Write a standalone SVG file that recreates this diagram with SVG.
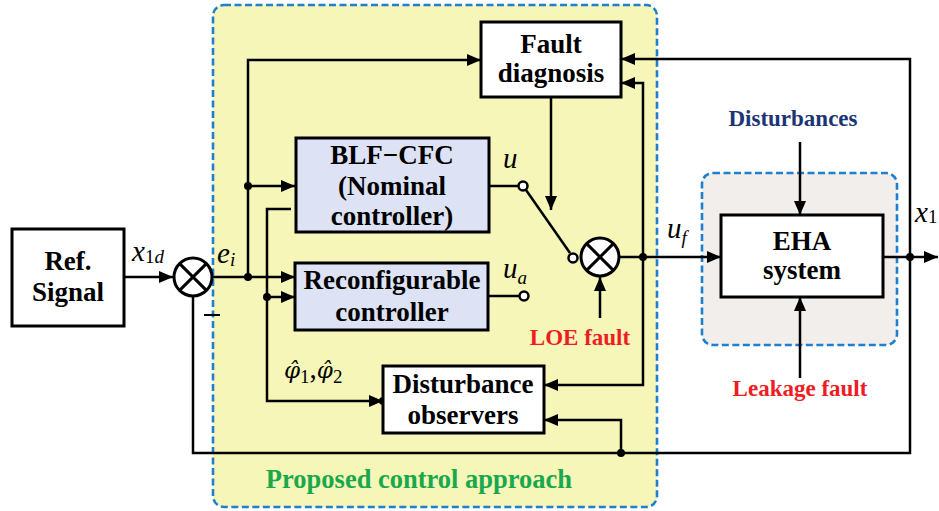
<svg xmlns="http://www.w3.org/2000/svg" width="939" height="511" viewBox="0 0 939 511">
<defs>
<marker id="ah" viewBox="0 0 14 12" refX="14" refY="6" markerWidth="14" markerHeight="12" markerUnits="userSpaceOnUse" orient="auto">
<path d="M0,0 L14,6 L0,12 z" fill="#000"/>
</marker>
</defs>
<style>
.box{stroke:#000;stroke-width:3;}
.w{fill:#fff;}
.b{fill:#dde3f4;}
.t{font-family:"Liberation Serif","DejaVu Serif",serif;font-weight:bold;font-size:27px;text-anchor:middle;fill:#000;}
.m{font-family:"Liberation Serif","DejaVu Serif",serif;font-style:italic;font-size:29px;fill:#000;}
.s{font-size:19px;}
.ph{font-family:"DejaVu Serif",serif;font-style:italic;font-size:23px;}
.ln{fill:none;stroke:#000;stroke-width:2.5;}
.ar{marker-end:url(#ah);}
.dot{fill:#000;}
.sw{fill:#fff;stroke:#000;stroke-width:2.5;}
.dash{stroke:#1e7fd0;stroke-width:2.6;stroke-dasharray:7 3.5;}
</style>
<rect x="0" y="0" width="939" height="511" fill="#fff"/>
<g id="approach">
<rect x="213" y="5" width="444" height="502" rx="11" fill="#f6f6b8" class="dash"/>
<text x="419" y="488" class="t" style="font-size:26.5px;fill:#1aa84c">Proposed control approach</text>
</g>
<g id="eha-region">
<rect x="702" y="173" width="195" height="172" rx="11" fill="#f2eeeb" class="dash"/>
</g>
<g id="connectors">
<line x1="124" y1="277" x2="173" y2="277" class="ln ar"/>
<line x1="213" y1="277" x2="295" y2="277" class="ln ar"/>
<polyline points="248,277 248,60 481,60" class="ln ar"/>
<line x1="248" y1="186" x2="295" y2="186" class="ln ar"/>
<polyline points="291,209 267,209 267,401 383,401" class="ln ar"/>
<line x1="267" y1="297" x2="295" y2="297" class="ln ar"/>
<line x1="551" y1="97" x2="551" y2="210" class="ln ar"/>
<line x1="489" y1="186" x2="519" y2="186" class="ln"/>
<line x1="526" y1="190" x2="570" y2="253" class="ln"/>
<line x1="488" y1="296" x2="520" y2="296" class="ln"/>
<line x1="600" y1="318" x2="600" y2="277" class="ln ar"/>
<line x1="620" y1="257" x2="721" y2="257" class="ln ar"/>
<polyline points="643,257 643,83 621,83" class="ln ar"/>
<polyline points="643,257 643,385 544,385" class="ln ar"/>
<line x1="883" y1="257" x2="938" y2="257" class="ln ar"/>
<polyline points="910,257 910,59 621,59" class="ln ar"/>
<polyline points="910,257 910,453 193,453 193,297" class="ln"/>
<polyline points="621,453 621,420 544,420" class="ln ar"/>
<line x1="800" y1="142" x2="800" y2="215" class="ln ar"/>
<line x1="800" y1="378" x2="800" y2="297" class="ln ar"/>
<circle cx="248" cy="277" r="4" class="dot"/>
<circle cx="248" cy="186" r="4" class="dot"/>
<circle cx="267" cy="297" r="4" class="dot"/>
<circle cx="383" cy="401" r="4" class="dot"/>
<circle cx="643" cy="257" r="4" class="dot"/>
<circle cx="910" cy="257" r="4" class="dot"/>
<circle cx="621" cy="453" r="4" class="dot"/>
<circle cx="523" cy="186" r="4.5" class="sw"/>
<circle cx="573" cy="258" r="4.5" class="sw"/>
<circle cx="524" cy="296" r="4.5" class="sw"/>
<line x1="204" y1="315" x2="220" y2="315" class="ln" style="stroke-width:2"/>
</g>
<g id="ref-signal">
<rect x="12" y="229" width="112" height="97" class="box w"/>
<text x="68" y="270" class="t">Ref.</text>
<text x="68" y="301" class="t">Signal</text>
</g>
<g id="sum1">
<circle cx="193" cy="277" r="19" fill="#fff" stroke="#000" stroke-width="3"/>
<path d="M179.6,263.6 L206.4,290.4 M206.4,263.6 L179.6,290.4" stroke="#000" stroke-width="3"/>
</g>
<g id="sum2">
<circle cx="600" cy="257" r="19" fill="#fff" stroke="#000" stroke-width="3"/>
<path d="M586.6,243.6 L613.4,270.4 M613.4,243.6 L586.6,270.4" stroke="#000" stroke-width="3"/>
</g>
<g id="fault-diagnosis">
<rect x="481" y="22" width="140" height="75" class="box w"/>
<text x="551" y="53" class="t">Fault</text>
<text x="551" y="82" class="t">diagnosis</text>
</g>
<g id="blf-cfc">
<rect x="296" y="138" width="193" height="94" class="box b"/>
<text x="392" y="164" class="t">BLF−CFC</text>
<text x="392" y="195" class="t">(Nominal</text>
<text x="392" y="225" class="t">controller)</text>
</g>
<g id="reconfigurable">
<rect x="295" y="263" width="193" height="67" class="box b"/>
<text x="392" y="289" class="t">Reconfigurable</text>
<text x="392" y="321" class="t">controller</text>
</g>
<g id="disturbance-observers">
<rect x="383" y="366" width="161" height="67" class="box w"/>
<text x="463" y="393" class="t">Disturbance</text>
<text x="463" y="424" class="t">observers</text>
</g>
<g id="eha">
<rect x="721" y="215" width="162" height="82" class="box w"/>
<text x="802" y="250" class="t">EHA</text>
<text x="802" y="279" class="t">system</text>
</g>
<g id="labels">
<text x="132" y="261" class="m">x<tspan class="s" font-style="normal" dy="2">1</tspan><tspan class="s">d</tspan></text>
<text x="217" y="263" class="m">e<tspan class="s" dy="3">i</tspan></text>
<text x="503" y="168" class="m">u</text>
<text x="503" y="278" class="m">u<tspan class="s" dy="6">a</tspan></text>
<text x="667" y="238" class="m">u<tspan class="s" dy="6">f</tspan></text>
<text x="915" y="222" class="m">x<tspan class="s" font-style="normal" dy="1">1</tspan></text>
<text x="284" y="378" class="m"><tspan class="ph">φ̂</tspan><tspan class="s" font-style="normal" dy="5">1</tspan><tspan font-style="normal" dy="-5">,</tspan><tspan class="ph">φ̂</tspan><tspan class="s" font-style="normal" dy="5">2</tspan></text>
<text x="580" y="345" class="t" style="font-size:23px;fill:#ee1c24">LOE fault</text>
<text x="793" y="126" class="t" style="font-size:23px;fill:#1b3575">Disturbances</text>
<text x="800" y="396" class="t" style="font-size:23px;fill:#ee1c24">Leakage fault</text>
</g>
</svg>
